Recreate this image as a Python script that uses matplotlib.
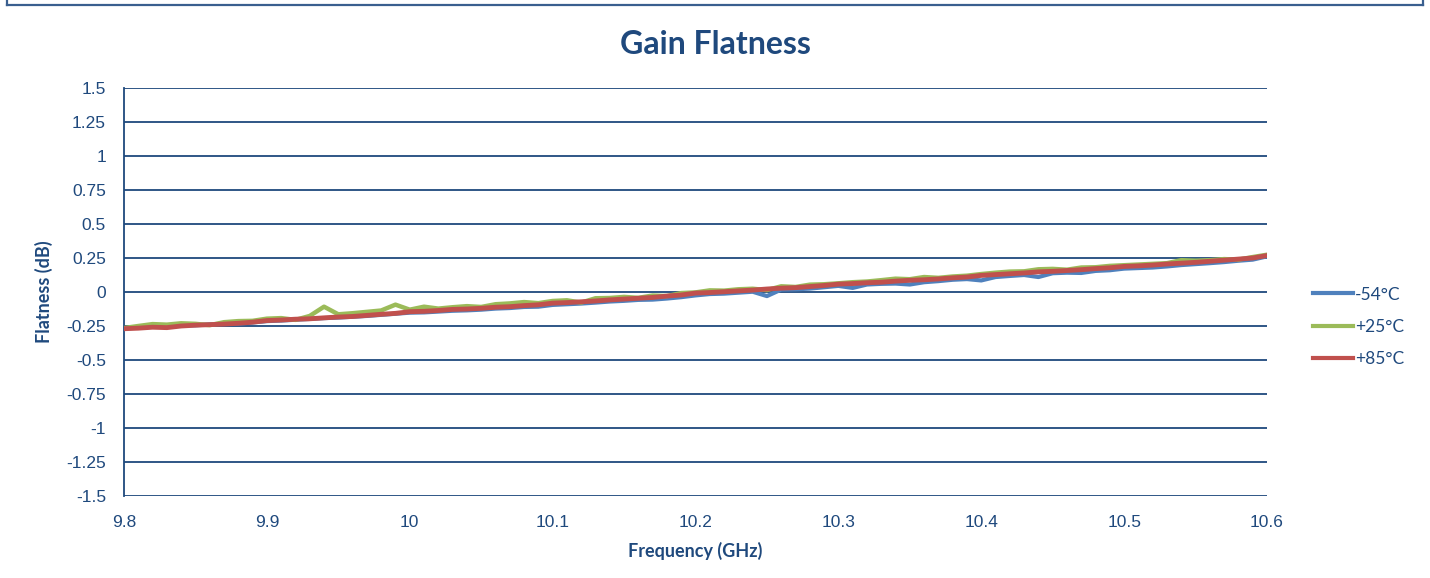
import matplotlib
matplotlib.use("Agg")
import matplotlib.pyplot as plt
from matplotlib.lines import Line2D
from matplotlib.ticker import FuncFormatter

plt.rcParams['font.family'] = ['Liberation Sans', 'DejaVu Sans']

# frequency points (GHz)
freq = [9.80, 9.81, 9.82, 9.83, 9.84, 9.85, 9.86, 9.87, 9.88, 9.89,
        9.90, 9.91, 9.92, 9.93, 9.94, 9.95, 9.96, 9.97, 9.98, 9.99,
        10.00, 10.01, 10.02, 10.03, 10.04, 10.05, 10.06, 10.07, 10.08, 10.09,
        10.10, 10.11, 10.12, 10.13, 10.14, 10.15, 10.16, 10.17, 10.18, 10.19,
        10.20, 10.21, 10.22, 10.23, 10.24, 10.25, 10.26, 10.27, 10.28, 10.29,
        10.30, 10.31, 10.32, 10.33, 10.34, 10.35, 10.36, 10.37, 10.38, 10.39,
        10.40, 10.41, 10.42, 10.43, 10.44, 10.45, 10.46, 10.47, 10.48, 10.49,
        10.50, 10.51, 10.52, 10.53, 10.54, 10.55, 10.56, 10.57, 10.58, 10.59, 10.60]

# flatness (dB) at -54C
flat_m54 = [-0.268, -0.262, -0.255, -0.250, -0.246, -0.245, -0.238, -0.235, -0.232, -0.224,
            -0.214, -0.210, -0.204, -0.198, -0.192, -0.188, -0.182, -0.176, -0.168, -0.160,
            -0.152, -0.150, -0.144, -0.138, -0.135, -0.130, -0.122, -0.118, -0.110, -0.108,
            -0.095, -0.090, -0.085, -0.078, -0.070, -0.065, -0.058, -0.056, -0.048, -0.038,
            -0.025, -0.015, -0.012, -0.005, 0.002, -0.030, 0.018, 0.020, 0.025, 0.035,
            0.045, 0.030, 0.055, 0.060, 0.062, 0.055, 0.072, 0.080, 0.090, 0.095,
            0.085, 0.110, 0.118, 0.125, 0.110, 0.138, 0.142, 0.140, 0.155, 0.160,
            0.172, 0.176, 0.180, 0.188, 0.198, 0.205, 0.212, 0.220, 0.230, 0.238, 0.262]

# flatness (dB) at +25C
flat_p25 = [-0.265, -0.250, -0.236, -0.240, -0.230, -0.234, -0.244, -0.222, -0.214, -0.212,
            -0.196, -0.192, -0.205, -0.176, -0.108, -0.164, -0.156, -0.146, -0.136, -0.093,
            -0.130, -0.108, -0.122, -0.112, -0.104, -0.110, -0.090, -0.084, -0.074, -0.082,
            -0.066, -0.061, -0.078, -0.046, -0.044, -0.036, -0.043, -0.026, -0.030, -0.008,
            -0.003, 0.012, 0.010, 0.020, 0.024, 0.014, 0.042, 0.037, 0.054, 0.057,
            0.064, 0.072, 0.077, 0.087, 0.098, 0.094, 0.110, 0.104, 0.114, 0.120,
            0.132, 0.142, 0.150, 0.152, 0.167, 0.170, 0.164, 0.180, 0.182, 0.192,
            0.197, 0.202, 0.207, 0.212, 0.234, 0.230, 0.234, 0.242, 0.238, 0.257, 0.274]

# flatness (dB) at +85C
flat_p85 = [-0.270, -0.266, -0.259, -0.262, -0.250, -0.244, -0.240, -0.236, -0.230, -0.222,
            -0.210, -0.206, -0.200, -0.197, -0.190, -0.184, -0.180, -0.172, -0.164, -0.157,
            -0.145, -0.142, -0.136, -0.128, -0.125, -0.120, -0.112, -0.108, -0.100, -0.094,
            -0.082, -0.078, -0.072, -0.066, -0.058, -0.052, -0.046, -0.040, -0.030, -0.022,
            -0.008, -0.004, 0.002, 0.008, 0.014, 0.022, 0.028, 0.032, 0.040, 0.048,
            0.058, 0.062, 0.068, 0.072, 0.080, 0.086, 0.090, 0.096, 0.104, 0.110,
            0.122, 0.128, 0.134, 0.140, 0.148, 0.152, 0.158, 0.164, 0.172, 0.178,
            0.188, 0.192, 0.198, 0.206, 0.212, 0.218, 0.226, 0.234, 0.242, 0.250, 0.268]

labels = ['-54°C', '+25°C', '+85°C']
colors = ['#4F81BD', '#9BBB59', '#C0504D']

xticks = [9.8, 9.9, 10.0, 10.1, 10.2, 10.3, 10.4, 10.5, 10.6]
yticks = [-1.5, -1.25, -1, -0.75, -0.5, -0.25, 0, 0.25, 0.5, 0.75, 1, 1.25, 1.5]

navy = '#1F497D'
W, H = 1430, 578

fig = plt.figure(figsize=(W / 100, H / 100), dpi=100)
ax = fig.add_axes([124 / W, 1 - 496 / H, (1267 - 124) / W, (496 - 88) / H])

# outer chart border (bottom edge falls outside the picture)
for xs, ys in [([7, 7], [0, 5]), ([7, 1423], [5, 5]), ([1423, 1423], [5, 0])]:
    fig.add_artist(Line2D([x / W for x in xs], [1 - y / H for y in ys],
                          color='#3A5F8F', lw=1.6, transform=fig.transFigure))

for yv in yticks:
    ax.axhline(yv, color=navy, lw=1.3, zorder=1)

ax.plot(freq, flat_m54, color=colors[0], lw=3.0, label=labels[0], zorder=3)
ax.plot(freq, flat_p25, color=colors[1], lw=3.2, label=labels[1], zorder=4)
ax.plot(freq, flat_p85, color=colors[2], lw=3.5, label=labels[2], zorder=5)

ax.set_xlim(9.8, 10.6)
ax.set_ylim(-1.5, 1.5)
ax.set_xticks(xticks)
ax.set_yticks(yticks)
fmt = FuncFormatter(lambda v, p: '%g' % v)
ax.xaxis.set_major_formatter(fmt)
ax.yaxis.set_major_formatter(fmt)
ax.tick_params(axis='both', length=0, labelsize=12.5, labelcolor=navy)
ax.tick_params(axis='x', pad=14)
ax.tick_params(axis='y', pad=13)

for s in ['top', 'right', 'bottom']:
    ax.spines[s].set_visible(False)
ax.spines['left'].set_color(navy)
ax.spines['left'].set_linewidth(1.3)

fig.text(715 / W, 1 - 44 / H, 'Gain Flatness', ha='center', va='center',
         fontsize=23, fontweight='bold', color=navy, family='Lato')
fig.text(695 / W, 1 - 551 / H, 'Frequency (GHz)', ha='center', va='center',
         fontsize=13, fontweight='bold', color=navy, family='Lato')
fig.text(44 / W, 1 - 292 / H, 'Flatness (dB)', ha='center', va='center', rotation=90,
         fontsize=13, fontweight='bold', color=navy, family='Lato')

leg = ax.legend(loc='center left', bbox_to_anchor=(1313 / W, 1 - 327 / H),
                bbox_transform=fig.transFigure, frameon=False, borderpad=0,
                borderaxespad=0, handlelength=2.3, handletextpad=0.1,
                labelspacing=0.95, prop={'family': 'Lato', 'size': 12.5})
for t in leg.get_texts():
    t.set_color(navy)
for h in leg.get_lines():
    h.set_linewidth(3.0)

fig.savefig('out.png', dpi=100)
